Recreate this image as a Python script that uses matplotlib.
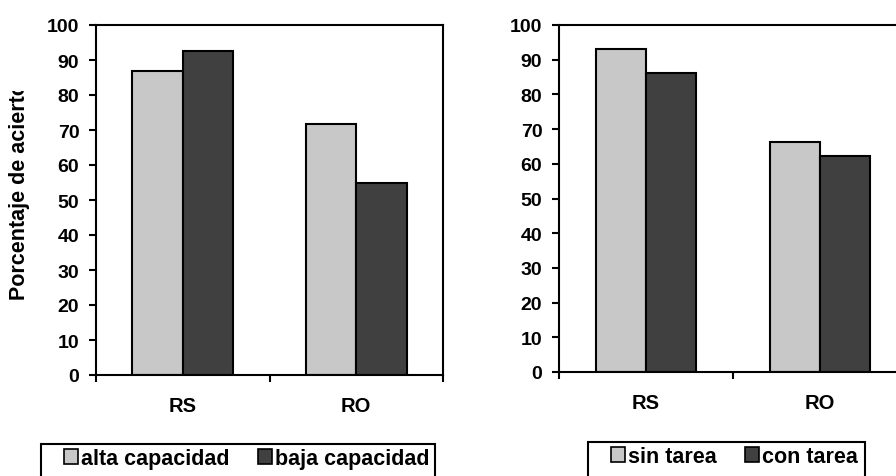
import matplotlib.pyplot as plt
from matplotlib.patches import Rectangle, Patch
from matplotlib.transforms import Bbox, TransformedBbox

plt.rcParams["font.family"] = ["Liberation Sans", "DejaVu Sans"]
plt.rcParams["font.weight"] = "bold"

categories = ["RS", "RO"]

left_labels = ["alta capacidad", "baja capacidad"]
left_values = [[87.0, 71.7], [92.5, 55.0]]

right_labels = ["sin tarea", "con tarea"]
right_values = [[93.0, 66.2], [86.1, 62.3]]

colors = ["#c8c8c8", "#404040"]
W, H = 896, 477


def px_axes(fig, x0, y0, x1, y1):
    return fig.add_axes([x0 / W, (H - y1) / H, (x1 - x0) / W, (y1 - y0) / H])


def draw_panel(ax, values, labels):
    width = 0.29
    pos = range(len(categories))
    for k, (vals, lab) in enumerate(zip(values, labels)):
        xs = [p + (k - 0.5) * width for p in pos]
        ax.bar(xs, vals, width=width, color=colors[k], edgecolor="black",
               linewidth=1.5, label=lab, zorder=2)
    ax.set_xlim(-0.5, 1.5)
    ax.set_ylim(0, 100)
    ax.set_yticks(range(0, 101, 10))
    ax.set_xticks([0, 1])
    ax.set_xticklabels(categories)
    ax.set_xticks([-0.5, 0.5, 1.5], minor=True)
    ax.tick_params(axis="x", which="major", length=0, pad=15, labelsize=14.5)
    ax.tick_params(axis="x", which="minor", length=5, width=1.5, direction="out")
    ax.tick_params(axis="y", length=5, width=1.5, direction="out", pad=7, labelsize=14)
    for s in ax.spines.values():
        s.set_linewidth(1.5)
    for t in ax.get_yticklabels() + ax.get_xticklabels():
        t.set_fontweight("bold")


def draw_legend(fig, labels, box, anchor):
    x0, y0, x1 = box
    fig.patches.append(Rectangle((x0 / W, -0.05), (x1 - x0) / W, (H - y0) / H + 0.05,
                                 transform=fig.transFigure, fill=False,
                                 edgecolor="black", linewidth=1.5, clip_on=False))
    handles = [Patch(facecolor=colors[k], edgecolor="black", linewidth=1.2)
               for k in range(len(labels))]
    fig.legend(handles, labels, loc="upper left",
               bbox_to_anchor=(anchor[0] / W, (H - anchor[1]) / H),
               ncol=2, frameon=False, prop={"size": 15.5, "weight": "bold"},
               handlelength=0.65, handleheight=0.72, handletextpad=0.15,
               columnspacing=1.3, borderpad=0, borderaxespad=0)


fig = plt.figure(figsize=(W / 100, H / 100), dpi=100)

ax1 = px_axes(fig, 96, 26, 443, 376)
draw_panel(ax1, left_values, left_labels)

ax2 = px_axes(fig, 559, 26, 907, 373)
draw_panel(ax2, right_values, right_labels)

ylab = fig.text(20 / W, (H - 300) / H, "Porcentaje de aciertos", rotation=90,
                ha="center", va="bottom", fontsize=15.5, fontweight="bold")
ylab.set_clip_box(TransformedBbox(Bbox([[0, 0], [1, (H - 92) / H]]), fig.transFigure))
ylab.set_clip_on(True)

draw_legend(fig, left_labels, (41, 445, 435), (64, 449))
draw_legend(fig, right_labels, (588, 443, 865), (611, 447))

fig.savefig("out.png", dpi=100)
